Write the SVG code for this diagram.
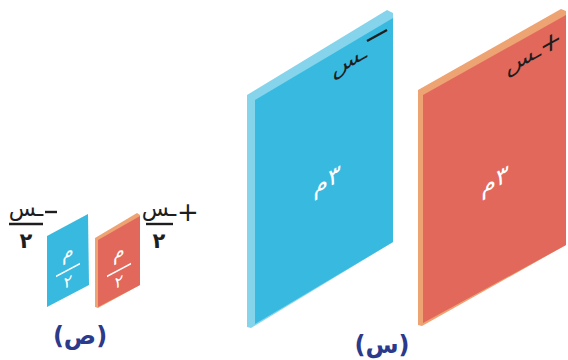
<svg xmlns="http://www.w3.org/2000/svg" width="568" height="360" viewBox="0 0 568 360">
<style>
  .ar { font-family: "DejaVu Sans", "Noto Sans", sans-serif; }
  .wt { fill: #ffffff; }
  .dk { fill: #1e1e1e; }
  .lbl { fill: #2b3a8a; font-weight: bold; }
  .lr { direction: ltr; unicode-bidi: bidi-override; }
  .blueFace { fill: #38b9df; }
  .blueSide { fill: #86d4ec; }
  .redFace { fill: #e2685c; }
  .redSide { fill: #eea372; }
</style>
<rect width="568" height="360" fill="#ffffff"/>

<g id="big-blue-plate">
  <polygon class="blueSide" points="247,95 387,10 393,13 393,242 251,328 247,327"/>
  <polygon class="blueFace" points="255,100 393,18 393,242 255,324"/>
  <g transform="translate(327,180) skewY(-30)">
    <text class="ar wt lr" x="0" y="8" font-size="24" text-anchor="middle">م٣</text>
  </g>
  <g transform="translate(350,62) skewY(-30)">
    <text class="ar dk" x="0" y="5" font-size="22" text-anchor="middle">ـس</text>
  </g>
  <line x1="367" y1="41" x2="387" y2="30" stroke="#1e1e1e" stroke-width="2.4"/>
</g>

<g id="big-red-plate">
  <polygon class="redSide" points="418,90 561,9 566,11 566,245 422,326 418,325"/>
  <polygon class="redFace" points="423,95 566,15 566,245 423,323"/>
  <g transform="translate(495,180) skewY(-29)">
    <text class="ar wt lr" x="0" y="8" font-size="24" text-anchor="middle">م٣</text>
  </g>
  <g transform="translate(524,60) skewY(-29)">
    <text class="ar dk" x="0" y="5" font-size="22" text-anchor="middle">ـس</text>
  </g>
  <g transform="translate(551,43) skewY(-29)">
    <text class="ar dk" x="0" y="8" font-size="26" text-anchor="middle">+</text>
  </g>
</g>

<g id="small-blue-plate">
  <polygon class="blueFace" points="47,236 88,214 89,285 47,307"/>
  <g transform="translate(68,262) skewY(-28)">
    <text class="ar wt" x="0" y="-4" font-size="19" text-anchor="middle">م</text>
    <line x1="-12" y1="8" x2="12" y2="8" stroke="#ffffff" stroke-width="1.8"/>
    <text class="ar wt" x="0" y="25" font-size="16" text-anchor="middle">٢</text>
  </g>
</g>

<g id="small-red-plate">
  <polygon class="redSide" points="95,238 137,213 140,215 140,285 98,308 95,307"/>
  <polygon class="redFace" points="98,240 140,216 140,285 98,307"/>
  <g transform="translate(119,262) skewY(-28)">
    <text class="ar wt" x="0" y="-4" font-size="19" text-anchor="middle">م</text>
    <line x1="-12" y1="8" x2="12" y2="8" stroke="#ffffff" stroke-width="1.8"/>
    <text class="ar wt" x="0" y="25" font-size="16" text-anchor="middle">٢</text>
  </g>
</g>

<g id="label-minus-half">
  <text class="ar dk" x="26" y="216" font-size="22" text-anchor="middle">ـس</text>
  <line x1="9" y1="224" x2="43" y2="224" stroke="#1e1e1e" stroke-width="2.4"/>
  <text class="ar dk" x="26" y="248" font-size="21" font-weight="bold" text-anchor="middle">٢</text>
  <line x1="45" y1="212" x2="57" y2="212" stroke="#1e1e1e" stroke-width="2.4"/>
</g>

<g id="label-plus-half">
  <text class="ar dk" x="159" y="216" font-size="22" text-anchor="middle">ـس</text>
  <line x1="146" y1="224" x2="173" y2="224" stroke="#1e1e1e" stroke-width="2.4"/>
  <text class="ar dk" x="159" y="248" font-size="21" font-weight="bold" text-anchor="middle">٢</text>
  <text class="ar dk" x="188" y="221" font-size="26" text-anchor="middle">+</text>
</g>

<g id="label-sad">
  <text class="ar lbl" x="80" y="344" font-size="24" text-anchor="middle">(ص)</text>
</g>

<g id="label-sin">
  <text class="ar lbl" x="382" y="353" font-size="24" text-anchor="middle">(س)</text>
</g>
</svg>
